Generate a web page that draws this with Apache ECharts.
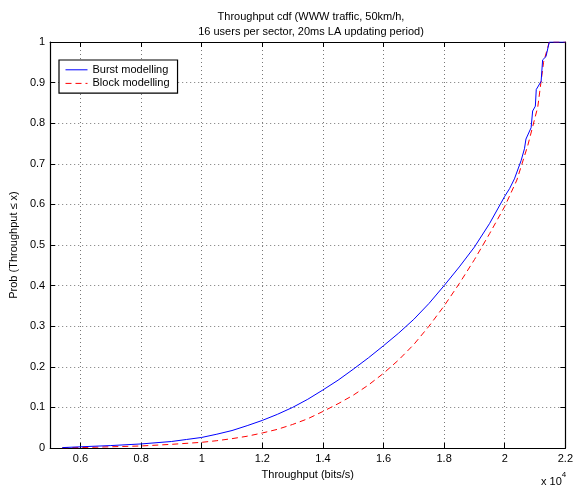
<!DOCTYPE html>
<html>
<head>
<meta charset="utf-8">
<script src="https://cdn.jsdelivr.net/npm/echarts@6/dist/echarts.min.js"></script>
<style>
html,body{margin:0;padding:0;background:#fff;}
#chart{width:576px;height:485px;}
</style>
</head>
<body>
<div id="chart"></div>
<script>
// Data (x in units of 1e4 bits/s)
const xTicks = [0.6, 0.8, 1.0, 1.2, 1.4, 1.6, 1.8, 2.0, 2.2];
const burstX = [0.54, 0.6, 0.7, 0.8, 0.9, 0.95, 1.0, 1.05, 1.1, 1.15, 1.2, 1.25, 1.3, 1.35, 1.4, 1.45, 1.5, 1.55, 1.6, 1.65, 1.7, 1.75, 1.8, 1.85, 1.9, 1.95, 2.0, 2.016, 2.032, 2.054, 2.065, 2.07, 2.087, 2.092, 2.101, 2.104, 2.12, 2.125, 2.136, 2.147, 2.2];
const burstY = [0.001, 0.003, 0.006, 0.010, 0.016, 0.021, 0.026, 0.034, 0.043, 0.055, 0.068, 0.083, 0.100, 0.120, 0.143, 0.167, 0.194, 0.222, 0.252, 0.283, 0.317, 0.356, 0.400, 0.446, 0.495, 0.553, 0.620, 0.639, 0.663, 0.708, 0.737, 0.761, 0.789, 0.83, 0.842, 0.883, 0.903, 0.956, 0.964, 1.0, 1.0];
const blockX = [0.54, 0.6, 0.7, 0.8, 0.9, 1.0, 1.05, 1.1, 1.15, 1.2, 1.25, 1.3, 1.35, 1.4, 1.45, 1.5, 1.55, 1.6, 1.65, 1.7, 1.75, 1.8, 1.85, 1.9, 1.95, 2.0, 2.04, 2.076, 2.109, 2.128, 2.147, 2.2];
const blockY = [0.0005, 0.001, 0.003, 0.005, 0.009, 0.014, 0.018, 0.023, 0.029, 0.037, 0.046, 0.058, 0.072, 0.090, 0.109, 0.130, 0.155, 0.184, 0.217, 0.255, 0.300, 0.350, 0.405, 0.464, 0.528, 0.595, 0.66, 0.745, 0.84, 0.95, 1.0, 1.0];

const zip = (xs, ys) => xs.map((x, i) => [x, ys[i]]);
const FONT = 'Liberation Sans, Arial, Helvetica, sans-serif';
const gridLine = {show: true, lineStyle: {color: '#777', width: 1, type: [1, 3]}};

const chart = echarts.init(document.getElementById('chart'), null, {renderer: 'canvas'});
chart.setOption({
  animation: false,
  backgroundColor: '#fff',
  textStyle: {fontFamily: FONT},
  title: {
    text: 'Throughput cdf (WWW traffic, 50km/h,\n16 users per sector, 20ms LA updating period)',
    left: 306, top: 4, textAlign: 'center',
    textStyle: {fontSize: 11, fontWeight: 'normal', color: '#000', lineHeight: 15, fontFamily: FONT}
  },
  grid: {left: 46, top: 42, right: 9, bottom: 33, containLabel: false},
  legend: {
    left: 59, top: 60, orient: 'vertical',
    padding: [4, 8, 4, 6], itemGap: 2, itemWidth: 22, itemHeight: 12,
    borderColor: '#000', borderWidth: 1.2, backgroundColor: '#fff',
    itemStyle: {opacity: 0, borderWidth: 0},
    lineStyle: {width: 1},
    textStyle: {fontSize: 11, color: '#000', fontFamily: FONT},
    data: ['Burst modelling', 'Block modelling']
  },
  xAxis: [{
    type: 'value', min: 0.5, max: 2.2,
    name: 'Throughput (bits/s)', nameLocation: 'middle', nameGap: 21,
    nameTextStyle: {fontSize: 11, color: '#000', fontFamily: FONT},
    axisLine: {show: true, onZero: false, lineStyle: {color: '#000', width: 1.2}},
    axisTick: {show: true, inside: true, length: 5, customValues: xTicks, lineStyle: {color: '#000'}},
    axisLabel: {show: true, margin: 5, fontSize: 11, color: '#000', fontFamily: FONT, customValues: xTicks,
      formatter: v => String(Math.round(v * 10) / 10)},
    splitLine: gridLine
  }, {
    type: 'value', min: 0.5, max: 2.2, position: 'top',
    axisLine: {show: true, onZero: false, lineStyle: {color: '#000', width: 1.2}},
    axisTick: {show: true, inside: true, length: 5, customValues: xTicks, lineStyle: {color: '#000'}},
    axisLabel: {show: false}, splitLine: {show: false}
  }],
  yAxis: [{
    type: 'value', min: 0, max: 1, interval: 0.1,
    name: 'Prob (Throughput \u2264 x)', nameLocation: 'middle', nameGap: 29,
    nameTextStyle: {fontSize: 11, color: '#000', fontFamily: FONT},
    axisLine: {show: true, onZero: false, lineStyle: {color: '#000', width: 1.2}},
    axisTick: {show: true, inside: true, length: 5, lineStyle: {color: '#000'}},
    axisLabel: {show: true, margin: 5, fontSize: 11, color: '#000', fontFamily: FONT,
      formatter: v => String(Math.round(v * 10) / 10)},
    splitLine: gridLine
  }, {
    type: 'value', min: 0, max: 1, interval: 0.1, position: 'right',
    axisLine: {show: true, onZero: false, lineStyle: {color: '#000', width: 1.2}},
    axisTick: {show: true, inside: true, length: 5, lineStyle: {color: '#000'}},
    axisLabel: {show: false}, splitLine: {show: false}
  }],
  series: [{
    name: 'Burst modelling', type: 'line', data: zip(burstX, burstY),
    showSymbol: false,
    lineStyle: {color: '#0000ff', width: 1}, itemStyle: {color: '#0000ff'}, z: 3
  }, {
    name: 'Block modelling', type: 'line', data: zip(blockX, blockY),
    showSymbol: false,
    lineStyle: {color: '#ff0000', width: 1, type: [6, 4]}, itemStyle: {color: '#ff0000'}, z: 2
  }],
  graphic: [{
    type: 'text', left: 541, top: 471,
    style: {
      text: '{a|x 10}{b|4}',
      rich: {
        a: {fontSize: 11, fontFamily: FONT, fill: '#000', verticalAlign: 'bottom'},
        b: {fontSize: 8, fontFamily: FONT, fill: '#000', verticalAlign: 'top', padding: [0, 0, 8, 0]}
      }
    }
  }]
});
</script>
</body>
</html>
